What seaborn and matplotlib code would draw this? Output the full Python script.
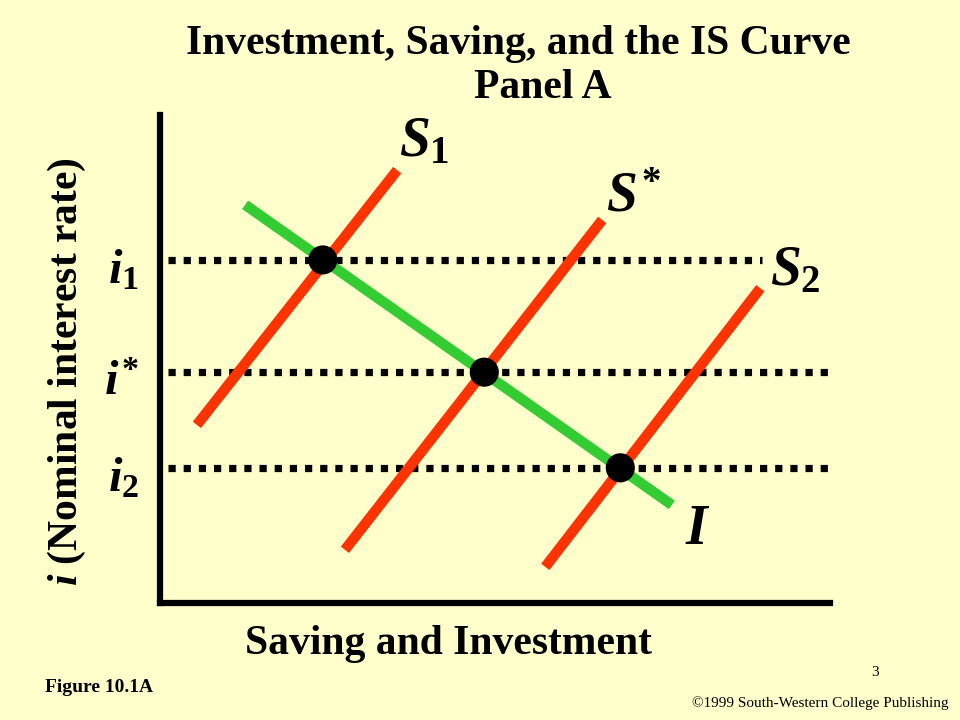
import pandas as pd
import seaborn as sns
import matplotlib.pyplot as plt
import matplotlib.transforms as mtransforms

# Curve endpoints (x = saving/investment, y = interest rate, both 0-100)
s1_x = [5.5, 35.4]
s1_y = [36.5, 88.7]
sstar_x = [27.6, 66.0]
sstar_y = [10.9, 78.5]
s2_x = [57.5, 89.6]
s2_y = [7.4, 64.5]
inv_x = [12.7, 76.4]
inv_y = [81.6, 20.1]

# Equilibrium points and interest rate levels
eq_x = [24.3, 48.4, 68.7]
eq_y = [70.3, 47.3, 27.7]
rate_labels = [r'$i_1$', r'$i^{\!*}$', r'$i_2$']
rate_line_start = [1.2, 1.2, 1.2]
rate_line_end = [89.9, 100.0, 100.0]

bg = '#FFFFCC'
red = '#FF3300'
green = '#33CC33'

sns.set_theme(style='white', rc={'axes.facecolor': bg, 'figure.facecolor': bg,
                                 'text.color': 'black', 'axes.labelcolor': 'black',
                                 'ytick.color': 'black'})
plt.rcParams['font.family'] = ['Liberation Serif', 'DejaVu Serif']
plt.rcParams['mathtext.fontset'] = 'custom'
plt.rcParams['mathtext.rm'] = 'Liberation Serif:bold'
plt.rcParams['mathtext.it'] = 'Liberation Serif:italic:bold'
plt.rcParams['mathtext.bf'] = 'Liberation Serif:bold'

fig = plt.figure(figsize=(9.6, 7.2), dpi=100)
ax = fig.add_axes([160 / 960, 117 / 720, 670 / 960, 488 / 720])

# dotted interest-rate levels
ax.hlines(eq_y, rate_line_start, rate_line_end, colors='black', linewidth=5.2,
          linestyles=(0, (1, 1.1)), zorder=1)

line_kw = dict(linewidth=7.5, solid_capstyle='butt', ax=ax)
sns.lineplot(x=s1_x, y=s1_y, color=red, zorder=2, **line_kw)
sns.lineplot(x=sstar_x, y=sstar_y, color=red, zorder=2, **line_kw)
sns.lineplot(x=s2_x, y=s2_y, color=red, zorder=2, **line_kw)
sns.lineplot(x=inv_x, y=inv_y, color=green, zorder=3, **line_kw)
sns.scatterplot(x=eq_x, y=eq_y, color='black', s=440, edgecolor='none', ax=ax, zorder=4)

# curve labels
ax.text(s1_x[1] + 0.3, s1_y[1] + 0.3, r'$S_1$', fontsize=40, ha='left', va='bottom')
ax.text(sstar_x[1] + 0.5, sstar_y[1] - 0.7, r'$S^{\!*}$', fontsize=40, ha='left', va='bottom')
ax.text(s2_x[1] + 1.5, s2_y[1] - 1.8, r'$S_2$', fontsize=40, ha='left', va='bottom')
ax.text(inv_x[1] + 2, inv_y[1] + 0.2, r'$I$', fontsize=40, ha='left', va='top')

ax.set_xlim(0, 100)
ax.set_ylim(0, 100)
ax.set_xticks([])
ax.set_yticks(eq_y, rate_labels, fontsize=35)
ax.tick_params(axis='y', length=0, pad=15)
shift = mtransforms.ScaledTranslation(0, -6 / 100, fig.dpi_scale_trans)
for lab in ax.get_yticklabels():
    lab.set_verticalalignment('center_baseline')
    lab.set_transform(lab.get_transform() + shift)

for side in ['top', 'right']:
    ax.spines[side].set_visible(False)
for side in ['left', 'bottom']:
    ax.spines[side].set_color('black')
    ax.spines[side].set_linewidth(4.5)

ax.set_xlabel('Saving and Investment', fontsize=30, fontweight='bold', va='top')
ax.xaxis.set_label_coords(0.43, -0.045)
ax.set_ylabel(r'$i$ (Nominal interest rate)', fontsize=30, fontweight='bold')
ax.yaxis.set_label_coords(-0.108, 0.475)

fig.text(518 / 960, 1 - 44 / 720, 'Investment, Saving, and the IS Curve',
         fontsize=30, fontweight='bold', ha='center', va='center')
fig.text(543 / 960, 1 - 88 / 720, 'Panel A', fontsize=30, fontweight='bold',
         ha='center', va='center')
fig.text(45 / 960, 1 - 688 / 720, 'Figure 10.1A', fontsize=14, fontweight='bold',
         ha='left', va='center')
fig.text(875 / 960, 1 - 672 / 720, '3', fontsize=11, ha='center', va='center')
fig.text(948 / 960, 1 - 703 / 720, '\u00a91999 South-Western College Publishing',
         fontsize=11, ha='right', va='center')

plt.savefig('out.png', dpi=100, facecolor=bg)
